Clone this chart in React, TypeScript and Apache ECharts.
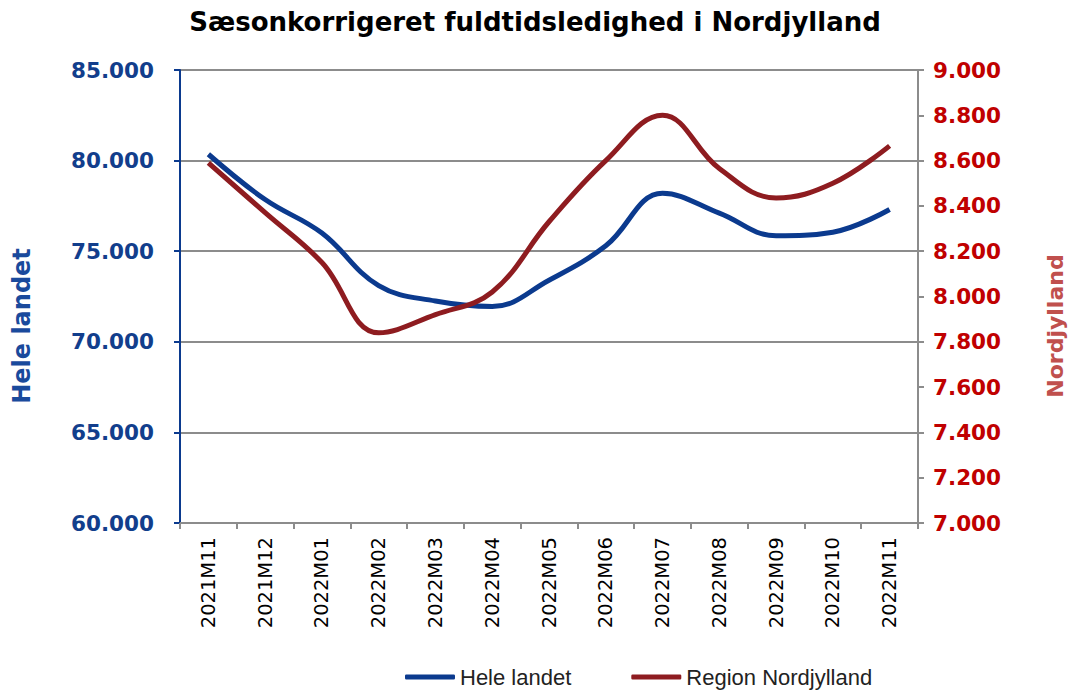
import React, { useEffect, useRef } from "react";
import * as echarts from "echarts";

const categories = [
  "2021M11", "2021M12", "2022M01", "2022M02", "2022M03", "2022M04", "2022M05",
  "2022M06", "2022M07", "2022M08", "2022M09", "2022M10", "2022M11",
];
const heleLandet = [80350, 77850, 76000, 73100, 72250, 71950, 73400, 75300, 78200, 77100, 75850, 76050, 77300];
const regionNordjylland = [8590, 8370, 8150, 7840, 7920, 8020, 8330, 8600, 8800, 8565, 8435, 8500, 8665];
const leftTicks = { min: 60000, max: 85000, interval: 5000 };
const rightTicks = { min: 7000, max: 9000, interval: 200 };

const fmt = (v: number) => Math.round(v).toString().replace(/\B(?=(\d{3})+(?!\d))/g, ".");

const BLUE = "#0B3A8E";
const RED = "#8E1C20";
const FONT = "DejaVu Sans";

export default function App() {
  const ref = useRef<HTMLDivElement>(null);
  useEffect(() => {
    if (!ref.current) return;
    const chart = echarts.init(ref.current, undefined, { renderer: "svg" });
    chart.setOption({
      animation: false,
      backgroundColor: "#ffffff",
      title: {
        text: "Sæsonkorrigeret fuldtidsledighed i Nordjylland",
        left: "center",
        top: 4,
        textStyle: { fontFamily: FONT, fontSize: 26, fontWeight: "bold", color: "#000" },
      },
      grid: { left: 180, right: 152, top: 70, bottom: 168, containLabel: false },
      legend: {
        left: 400,
        top: 661,
        itemWidth: 50,
        itemHeight: 5,
        itemGap: 60,
        icon: "roundRect",
        textStyle: { fontFamily: "Liberation Sans Narrow, Liberation Sans", fontSize: 22, color: "#222" },
        data: ["Hele landet", "Region Nordjylland"],
      },
      xAxis: {
        type: "category",
        data: categories,
        boundaryGap: true,
        axisLine: { lineStyle: { color: "#8c8c8c", width: 2 } },
        axisTick: { show: true, length: 6, lineStyle: { color: "#8c8c8c", width: 2 } },
        axisLabel: {
          rotate: 90,
          margin: 14,
          fontFamily: FONT,
          fontSize: 19.5,
          color: "#000",
        },
      },
      yAxis: [
        {
          type: "value",
          position: "left",
          min: leftTicks.min,
          max: leftTicks.max,
          interval: leftTicks.interval,
          axisLine: { show: true, lineStyle: { color: BLUE, width: 2 } },
          axisTick: { show: true, length: 6, lineStyle: { color: BLUE, width: 2 } },
          axisLabel: {
            formatter: fmt,
            margin: 26,
            fontFamily: FONT,
            fontWeight: "bold",
            fontSize: 21.5,
            color: "#123E8C",
          },
          splitLine: { show: true, lineStyle: { color: "#8c8c8c", width: 2 } },
        },
        {
          type: "value",
          position: "right",
          min: rightTicks.min,
          max: rightTicks.max,
          interval: rightTicks.interval,
          axisLine: { show: true, lineStyle: { color: "#8c8c8c", width: 2 } },
          axisTick: { show: true, length: 6, lineStyle: { color: "#8c8c8c", width: 2 } },
          axisLabel: {
            formatter: fmt,
            margin: 15,
            fontFamily: FONT,
            fontWeight: "bold",
            fontSize: 21.5,
            color: "#C00000",
          },
          splitLine: { show: false },
        },
      ],
      graphic: [
        {
          type: "text",
          x: 22,
          y: 326,
          rotation: Math.PI / 2,
          style: {
            text: "Hele landet",
            fontFamily: FONT,
            fontWeight: "bold",
            fontSize: 24,
            fill: "#1A4A9C",
            align: "center",
            verticalAlign: "middle",
          },
        },
        {
          type: "text",
          x: 1055,
          y: 326,
          rotation: Math.PI / 2,
          style: {
            text: "Nordjylland",
            fontFamily: FONT,
            fontWeight: "bold",
            fontSize: 22,
            fill: "#C0504D",
            align: "center",
            verticalAlign: "middle",
          },
        },
      ],
      series: [
        {
          name: "Hele landet",
          type: "line",
          yAxisIndex: 0,
          data: heleLandet,
          smooth: 0.4,
          showSymbol: false,
          lineStyle: { color: BLUE, width: 5 },
          itemStyle: { color: BLUE },
        },
        {
          name: "Region Nordjylland",
          type: "line",
          yAxisIndex: 1,
          data: regionNordjylland,
          smooth: 0.4,
          showSymbol: false,
          lineStyle: { color: RED, width: 5 },
          itemStyle: { color: RED },
        },
      ],
    });
    return () => chart.dispose();
  }, []);
  return (
    <div
      ref={ref}
      style={{ position: "fixed", left: 0, top: 0, width: 1070, height: 691, background: "#fff" }}
    />
  );
}
